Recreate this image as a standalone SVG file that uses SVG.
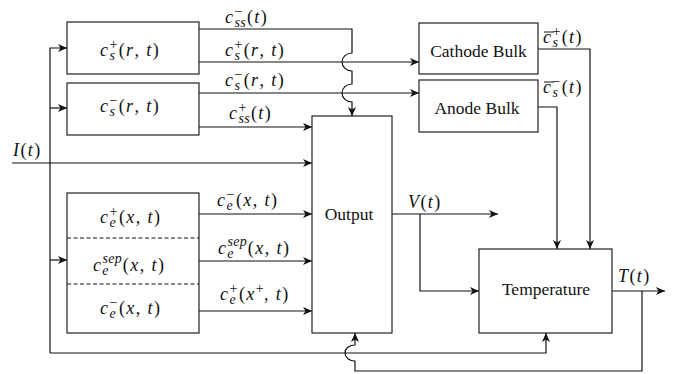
<svg xmlns="http://www.w3.org/2000/svg" width="683" height="374" viewBox="0 0 683 374">
<style>
.b{fill:#fff;stroke:#222;stroke-width:1.2}
.c{fill:none;stroke:#111;stroke-width:1.2}
.a{marker-end:url(#ar)}
.d{stroke:#111;stroke-width:1;stroke-dasharray:4 2.5}
.m{font-family:"Liberation Serif","Times New Roman","DejaVu Serif",serif;font-style:italic;font-size:18px;letter-spacing:1.4px;fill:#111}
.u{font-style:normal}
.s{font-size:14px;letter-spacing:0.3px}
.t{font-family:"Liberation Serif","Times New Roman","DejaVu Serif",serif;font-size:17.5px;fill:#111;text-anchor:middle}
</style>
<defs>
<marker id="ar" markerUnits="userSpaceOnUse" markerWidth="11" markerHeight="10" viewBox="-1 -5 11 10" refX="9" refY="0" orient="auto">
<path d="M0,-4 L9,0 L0,4 L2.5,0 z" fill="#111"/>
</marker>
</defs>

<g id="connectors">
<path class="c a" d="M50,353 V48 H67"/>
<path class="c a" d="M50,108 H67"/>
<path class="c a" d="M50,260 H67"/>
<path class="c a" d="M50,353 H546 V333"/>
<path class="c a" d="M199,29 H352 V53 A10,9 0 0 0 352,71 V84 A10,9 0 0 0 352,102 V116"/>
<path class="c a" d="M199,62 H419"/>
<path class="c a" d="M199,93 H419"/>
<path class="c a" d="M199,127 H312"/>
<path class="c a" d="M12,163 H312"/>
<path class="c a" d="M199,214 H312"/>
<path class="c a" d="M199,261 H312"/>
<path class="c a" d="M199,311 H312"/>
<path class="c a" d="M392,214 H498"/>
<path class="c a" d="M420,214 V291 H479"/>
<path class="c a" d="M538,49 H590 V249"/>
<path class="c a" d="M538,107 H557 V249"/>
<path class="c a" d="M612,291 H665"/>
<path class="c a" d="M642,291 V371 H355 V361 A10,8 0 0 1 355,345 V333"/>
</g>

<g id="labels">
<text class="m" x="225" y="23">c<tspan class="s u" dy="-7">−</tspan><tspan class="s" dx="-8.2" dy="11">ss</tspan><tspan class="u" dx="1" dy="-4">(</tspan>t<tspan class="u">)</tspan></text>
<text class="m" x="225" y="56">c<tspan class="s u" dy="-7">+</tspan><tspan class="s" dx="-8.2" dy="11">s</tspan><tspan class="u" dx="3.5" dy="-4">(</tspan>r<tspan class="u">, </tspan>t<tspan class="u">)</tspan></text>
<text class="m" x="225" y="86">c<tspan class="s u" dy="-7">−</tspan><tspan class="s" dx="-8.2" dy="11">s</tspan><tspan class="u" dx="3.5" dy="-4">(</tspan>r<tspan class="u">, </tspan>t<tspan class="u">)</tspan></text>
<text class="m" x="229" y="119">c<tspan class="s u" dy="-7">+</tspan><tspan class="s" dx="-8.2" dy="11">ss</tspan><tspan class="u" dx="1" dy="-4">(</tspan>t<tspan class="u">)</tspan></text>
<text class="m" x="13" y="156">I<tspan class="u">(</tspan>t<tspan class="u">)</tspan></text>
<text class="m" x="217" y="206">c<tspan class="s u" dy="-7">−</tspan><tspan class="s" dx="-8.2" dy="11">e</tspan><tspan class="u" dx="3" dy="-4">(</tspan>x<tspan class="u">, </tspan>t<tspan class="u">)</tspan></text>
<text class="m" x="218" y="254">c<tspan class="s" dy="-8">sep</tspan><tspan class="s" dx="-19.6" dy="12">e</tspan><tspan class="u" dx="14" dy="-4">(</tspan>x<tspan class="u">, </tspan>t<tspan class="u">)</tspan></text>
<text class="m" x="220" y="300">c<tspan class="s u" dy="-7">+</tspan><tspan class="s" dx="-8.2" dy="11">e</tspan><tspan class="u" dx="3" dy="-4">(</tspan>x<tspan class="s u" dy="-7">+</tspan><tspan class="u" dy="7">, </tspan>t<tspan class="u">)</tspan></text>
<g id="cbar-label">
<line x1="544" y1="32" x2="554" y2="32" stroke="#111" stroke-width="1"/>
<text class="m" x="543" y="43">c<tspan class="s u" dy="-7">+</tspan><tspan class="s" dx="-8.2" dy="11">s</tspan><tspan class="u" dx="3.5" dy="-4">(</tspan>t<tspan class="u">)</tspan></text>
</g>
<g id="abar-label">
<line x1="544" y1="82" x2="554" y2="82" stroke="#111" stroke-width="1"/>
<text class="m" x="543" y="93">c<tspan class="s u" dy="-7">−</tspan><tspan class="s" dx="-8.2" dy="11">s</tspan><tspan class="u" dx="3.5" dy="-4">(</tspan>t<tspan class="u">)</tspan></text>
</g>
<text class="m" x="408" y="208">V<tspan class="u">(</tspan>t<tspan class="u">)</tspan></text>
<text class="m" x="618" y="282">T<tspan class="u">(</tspan>t<tspan class="u">)</tspan></text>
</g>

<g id="node-cs-pos">
<rect class="b" x="67" y="22" width="132" height="52"/>
<text class="m" x="100" y="56">c<tspan class="s u" dy="-7">+</tspan><tspan class="s" dx="-8.2" dy="11">s</tspan><tspan class="u" dx="3.5" dy="-4">(</tspan>r<tspan class="u">, </tspan>t<tspan class="u">)</tspan></text>
</g>
<g id="node-cs-neg">
<rect class="b" x="67" y="83" width="132" height="52"/>
<text class="m" x="100" y="112">c<tspan class="s u" dy="-7">−</tspan><tspan class="s" dx="-8.2" dy="11">s</tspan><tspan class="u" dx="3.5" dy="-4">(</tspan>r<tspan class="u">, </tspan>t<tspan class="u">)</tspan></text>
</g>
<g id="node-electrolyte">
<rect class="b" x="67" y="193" width="132" height="140"/>
<line class="d" x1="67" y1="238" x2="199" y2="238"/>
<line class="d" x1="67" y1="284" x2="199" y2="284"/>
<text class="m" x="100" y="223">c<tspan class="s u" dy="-7">+</tspan><tspan class="s" dx="-8.2" dy="11">e</tspan><tspan class="u" dx="3" dy="-4">(</tspan>x<tspan class="u">, </tspan>t<tspan class="u">)</tspan></text>
<text class="m" x="93" y="271">c<tspan class="s" dy="-8">sep</tspan><tspan class="s" dx="-19.6" dy="12">e</tspan><tspan class="u" dx="14" dy="-4">(</tspan>x<tspan class="u">, </tspan>t<tspan class="u">)</tspan></text>
<text class="m" x="100" y="314">c<tspan class="s u" dy="-7">−</tspan><tspan class="s" dx="-8.2" dy="11">e</tspan><tspan class="u" dx="3" dy="-4">(</tspan>x<tspan class="u">, </tspan>t<tspan class="u">)</tspan></text>
</g>
<g id="node-output">
<rect class="b" x="312" y="116" width="80" height="217"/>
<text class="t" x="349" y="220">Output</text>
</g>
<g id="node-cathode">
<rect class="b" x="419" y="23" width="119" height="51"/>
<text class="t" x="478.5" y="57">Cathode Bulk</text>
</g>
<g id="node-anode">
<rect class="b" x="419" y="80" width="119" height="52"/>
<text class="t" x="477" y="114">Anode Bulk</text>
</g>
<g id="node-temperature">
<rect class="b" x="479" y="249" width="133" height="84"/>
<text class="t" x="546" y="295">Temperature</text>
</g>
</svg>
